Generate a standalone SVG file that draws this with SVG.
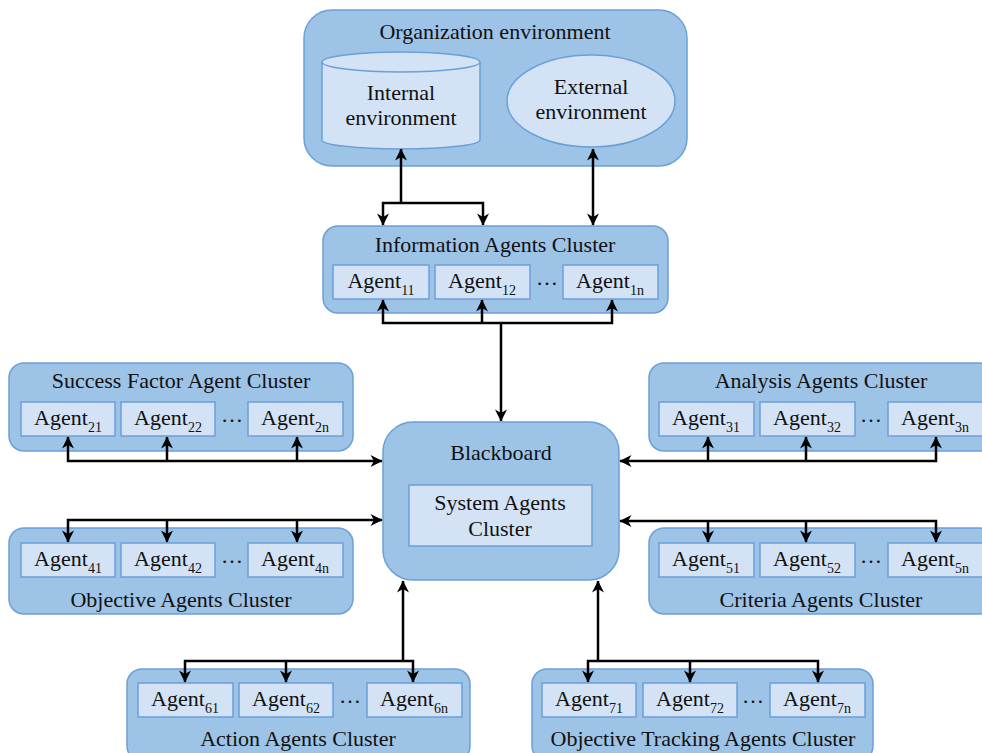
<svg xmlns="http://www.w3.org/2000/svg" width="982" height="753" viewBox="0 0 982 753">
<style>
.outer{fill:#9dc3e7;stroke:#6c9fd8;stroke-width:1.5}
.inner{fill:#d3e3f5;stroke:#6c9fd8;stroke-width:1.5}
text{font-family:"Liberation Serif","Times New Roman",serif;font-size:22px;fill:#111;text-anchor:middle}
.sub{font-size:14px}
.con{fill:none;stroke:#000;stroke-width:2.5}
</style>
<defs>
<marker id="ah" viewBox="0 0 13 13" refX="12" refY="6.5" markerWidth="13" markerHeight="13" markerUnits="userSpaceOnUse" orient="auto-start-reverse">
<path d="M0.5,0.5 L12.5,6.5 L0.5,12.5 L4,6.5 z" fill="#000"/>
</marker>
</defs>
<rect width="982" height="753" fill="#fff"/>

<g id="org">
<rect class="outer" x="304" y="10" width="383" height="156" rx="28"/>
<text x="495" y="39">Organization environment</text>
<g id="internal">
<path class="inner" d="M322,62 L322,140 A79,9 0 0 0 480,140 L480,62"/>
<ellipse class="inner" cx="401" cy="62" rx="79" ry="10"/>
<text x="401" y="100">Internal</text>
<text x="401" y="125">environment</text>
</g>
<g id="external">
<ellipse class="inner" cx="591" cy="101" rx="84" ry="46"/>
<text x="591" y="94">External</text>
<text x="591" y="119">environment</text>
</g>
</g>

<g id="info">
<rect class="outer" x="323" y="226" width="345" height="87" rx="15"/>
<text x="495" y="252">Information Agents Cluster</text>
<rect class="inner" x="333" y="265" width="96" height="34"/>
<rect class="inner" x="435" y="265" width="95" height="34"/>
<rect class="inner" x="563" y="265" width="95" height="34"/>
<text x="381" y="288">Agent<tspan class="sub" dy="7">11</tspan></text>
<text x="482" y="288">Agent<tspan class="sub" dy="7">12</tspan></text>
<text x="547" y="285">…</text>
<text x="610" y="288">Agent<tspan class="sub" dy="7">1n</tspan></text>
</g>

<g id="sf">
<rect class="outer" x="9" y="363" width="344" height="88" rx="15"/>
<text x="181" y="388">Success Factor Agent Cluster</text>
<rect class="inner" x="21" y="402" width="94" height="34"/>
<rect class="inner" x="121" y="402" width="94" height="34"/>
<rect class="inner" x="248" y="402" width="95" height="34"/>
<text x="68" y="425">Agent<tspan class="sub" dy="7">21</tspan></text>
<text x="168" y="425">Agent<tspan class="sub" dy="7">22</tspan></text>
<text x="232" y="422">…</text>
<text x="295" y="425">Agent<tspan class="sub" dy="7">2n</tspan></text>
</g>

<g id="objective">
<rect class="outer" x="9" y="528" width="344" height="86" rx="15"/>
<rect class="inner" x="21" y="543" width="94" height="34"/>
<rect class="inner" x="121" y="543" width="94" height="34"/>
<rect class="inner" x="248" y="543" width="95" height="34"/>
<text x="68" y="566">Agent<tspan class="sub" dy="7">41</tspan></text>
<text x="168" y="566">Agent<tspan class="sub" dy="7">42</tspan></text>
<text x="232" y="563">…</text>
<text x="295" y="566">Agent<tspan class="sub" dy="7">4n</tspan></text>
<text x="181" y="607">Objective Agents Cluster</text>
</g>

<g id="analysis">
<rect class="outer" x="649" y="363" width="345" height="88" rx="15"/>
<text x="821" y="388">Analysis Agents Cluster</text>
<rect class="inner" x="659" y="402" width="95" height="34"/>
<rect class="inner" x="760" y="402" width="95" height="34"/>
<rect class="inner" x="888" y="402" width="95" height="34"/>
<text x="706" y="425">Agent<tspan class="sub" dy="7">31</tspan></text>
<text x="807" y="425">Agent<tspan class="sub" dy="7">32</tspan></text>
<text x="871" y="422">…</text>
<text x="935" y="425">Agent<tspan class="sub" dy="7">3n</tspan></text>
</g>

<g id="criteria">
<rect class="outer" x="649" y="528" width="345" height="86" rx="15"/>
<rect class="inner" x="659" y="543" width="95" height="34"/>
<rect class="inner" x="760" y="543" width="95" height="34"/>
<rect class="inner" x="888" y="543" width="95" height="34"/>
<text x="706" y="566">Agent<tspan class="sub" dy="7">51</tspan></text>
<text x="807" y="566">Agent<tspan class="sub" dy="7">52</tspan></text>
<text x="871" y="563">…</text>
<text x="935" y="566">Agent<tspan class="sub" dy="7">5n</tspan></text>
<text x="821" y="607">Criteria Agents Cluster</text>
</g>

<g id="blackboard">
<rect class="outer" x="383" y="422" width="236" height="158" rx="30"/>
<text x="501" y="460">Blackboard</text>
<rect class="inner" x="409" y="485" width="183" height="61"/>
<text x="500" y="510">System Agents</text>
<text x="500" y="536">Cluster</text>
</g>

<g id="action">
<rect class="outer" x="127" y="669" width="343" height="92" rx="15"/>
<rect class="inner" x="138" y="683" width="95" height="34"/>
<rect class="inner" x="239" y="683" width="94" height="34"/>
<rect class="inner" x="367" y="683" width="95" height="34"/>
<text x="185" y="706">Agent<tspan class="sub" dy="7">61</tspan></text>
<text x="286" y="706">Agent<tspan class="sub" dy="7">62</tspan></text>
<text x="350" y="703">…</text>
<text x="414" y="706">Agent<tspan class="sub" dy="7">6n</tspan></text>
<text x="298" y="746">Action Agents Cluster</text>
</g>

<g id="tracking">
<rect class="outer" x="532" y="669" width="341" height="92" rx="15"/>
<rect class="inner" x="542" y="683" width="94" height="34"/>
<rect class="inner" x="643" y="683" width="94" height="34"/>
<rect class="inner" x="770" y="683" width="95" height="34"/>
<text x="589" y="706">Agent<tspan class="sub" dy="7">71</tspan></text>
<text x="690" y="706">Agent<tspan class="sub" dy="7">72</tspan></text>
<text x="753" y="703">…</text>
<text x="817" y="706">Agent<tspan class="sub" dy="7">7n</tspan></text>
<text x="703" y="746">Objective Tracking Agents Cluster</text>
</g>

<g id="connectors">
<path class="con" d="M401,203 L401,149" marker-end="url(#ah)"/>
<path class="con" d="M383,225 L383,203 L483,203 L483,225" marker-start="url(#ah)" marker-end="url(#ah)"/>
<path class="con" d="M593,149 L593,225" marker-start="url(#ah)" marker-end="url(#ah)"/>

<path class="con" d="M383,300 L383,323 L612,323 L612,300" marker-start="url(#ah)" marker-end="url(#ah)"/>
<path class="con" d="M482,323 L482,300" marker-end="url(#ah)"/>
<path class="con" d="M501,323 L501,421" marker-end="url(#ah)"/>

<path class="con" d="M68,437 L68,461 L382,461" marker-start="url(#ah)" marker-end="url(#ah)"/>
<path class="con" d="M167,461 L167,437" marker-end="url(#ah)"/>
<path class="con" d="M297,461 L297,437" marker-end="url(#ah)"/>

<path class="con" d="M68,542 L68,520 L382,520" marker-start="url(#ah)" marker-end="url(#ah)"/>
<path class="con" d="M167,520 L167,542" marker-end="url(#ah)"/>
<path class="con" d="M297,520 L297,542" marker-end="url(#ah)"/>

<path class="con" d="M936,437 L936,461 L620,461" marker-start="url(#ah)" marker-end="url(#ah)"/>
<path class="con" d="M708,461 L708,437" marker-end="url(#ah)"/>
<path class="con" d="M806,461 L806,437" marker-end="url(#ah)"/>

<path class="con" d="M936,542 L936,521 L620,521" marker-start="url(#ah)" marker-end="url(#ah)"/>
<path class="con" d="M708,521 L708,542" marker-end="url(#ah)"/>
<path class="con" d="M806,521 L806,542" marker-end="url(#ah)"/>

<path class="con" d="M185,682 L185,661 L413,661 L413,682" marker-start="url(#ah)" marker-end="url(#ah)"/>
<path class="con" d="M286,661 L286,682" marker-end="url(#ah)"/>
<path class="con" d="M403,661 L403,581" marker-end="url(#ah)"/>

<path class="con" d="M588,682 L588,661 L818,661 L818,682" marker-start="url(#ah)" marker-end="url(#ah)"/>
<path class="con" d="M690,661 L690,682" marker-end="url(#ah)"/>
<path class="con" d="M598,661 L598,581" marker-end="url(#ah)"/>
</g>
</svg>
